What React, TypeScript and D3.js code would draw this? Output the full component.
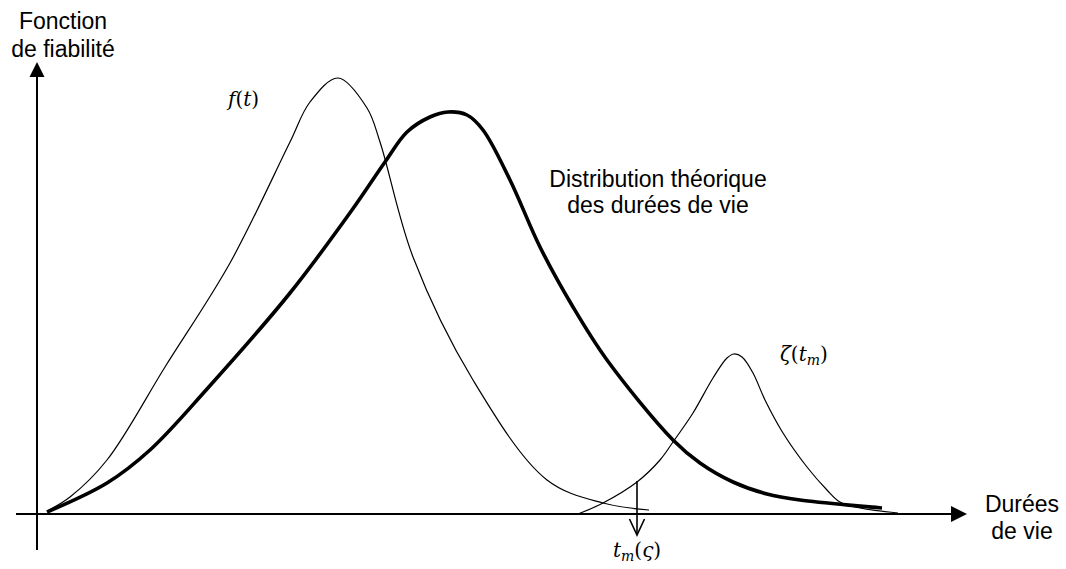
import { FC, useEffect, useRef } from 'react';
import * as d3 from 'd3';

// values (t = lifetime, y = density), one point per pair
const fT = [1.0, 3.3, 7.0, 12.8, 19.3, 25.3, 27.3, 30.1, 33.0, 34.3, 37.6, 43.6, 51.0, 56.6, 61.2];
const fY = [0.3, 1.7, 5.4, 14.7, 25.1, 37.2, 41.2, 43.6, 40.6, 37.2, 25.7, 13.4, 3.4, 1.1, 0.4];

const theoT = [1.0, 7.0, 11.3, 17.0, 25.3, 31.5, 34.8, 37.0, 39.3, 41.1, 43.0, 44.6, 47.3, 50.3, 53.6, 57.0, 63.6, 66.3, 69.6, 73.0, 76.3, 84.5];
const theoY = [0.2, 3.1, 6.4, 12.5, 22.1, 30.4, 35.2, 38.2, 39.7, 40.2, 39.9, 38.4, 33.4, 26.7, 20.7, 15.4, 7.4, 5.1, 3.2, 2.0, 1.4, 0.6];

const zetaT = [54.1, 56.6, 60.0, 62.3, 63.6, 65.6, 67.6, 69.0, 69.7, 70.5, 71.6, 72.8, 74.6, 77.0, 79.0, 80.3, 82.3, 86.1];
const zetaY = [0.0, 1.1, 3.2, 5.4, 7.2, 10.1, 13.6, 15.6, 16.0, 15.7, 14.1, 11.4, 8.1, 4.7, 2.4, 1.2, 0.6, 0.1];

// marker of t_m on the lifetime axis
const tm = 60.0;

const App: FC = () => {
  const ref = useRef<SVGSVGElement>(null);

  useEffect(() => {
    const svg = d3.select(ref.current);
    svg.selectAll('*').remove();

    //Scales: origin of the plot at (37, 514)
    const xScale = d3.scaleLinear().domain([0, 93]).range([37, 967]);
    const yScale = d3.scaleLinear().domain([0, 45]).range([514, 64]);

    const x0 = xScale(0);
    const y0 = yScale(0);

    //Axes
    svg.append('line')
      .attr('x1', xScale(-2.1)).attr('x2', xScale(91.4))
      .attr('y1', y0).attr('y2', y0)
      .attr('stroke', '#000').attr('stroke-width', 2);
    svg.append('line')
      .attr('x1', x0).attr('x2', x0)
      .attr('y1', yScale(-3.6)).attr('y2', yScale(43.7))
      .attr('stroke', '#000').attr('stroke-width', 2);

    //Arrow heads
    const xEnd = xScale(93);
    svg.append('path')
      .attr('d', `M${xEnd},${y0} L${xEnd - 16},${y0 - 8} L${xEnd - 16},${y0 + 8} Z`)
      .attr('fill', '#000');
    const yEnd = yScale(45.2);
    svg.append('path')
      .attr('d', `M${x0},${yEnd} L${x0 - 7.5},${yEnd + 15} L${x0 + 7.5},${yEnd + 15} Z`)
      .attr('fill', '#000');

    const line = d3
      .line<[number, number]>()
      .x((d) => xScale(d[0]))
      .y((d) => yScale(d[1]))
      .curve(d3.curveCatmullRom.alpha(0.5));

    const series = [
      { t: fT, y: fY, w: 1.2 },
      { t: zetaT, y: zetaY, w: 1.2 },
      { t: theoT, y: theoY, w: 3.6 },
    ];
    series.forEach((s) => {
      svg.append('path')
        .datum(s.t.map((t, i) => [t, s.y[i]] as [number, number]))
        .attr('fill', 'none')
        .attr('stroke', '#000')
        .attr('stroke-width', s.w)
        .attr('stroke-linejoin', 'round')
        .attr('d', line);
    });

    //Down arrow at t_m
    const xm = xScale(tm);
    svg.append('line')
      .attr('x1', xm).attr('x2', xm)
      .attr('y1', yScale(3.3)).attr('y2', yScale(-2.1))
      .attr('stroke', '#000').attr('stroke-width', 1.6);
    svg.append('path')
      .attr('d', `M${xm - 7.5},${yScale(-0.5)} L${xm},${yScale(-2.1)} L${xm + 7.5},${yScale(-0.5)}`)
      .attr('fill', 'none').attr('stroke', '#000').attr('stroke-width', 1.6);

    //Sans labels
    const sans = (lines: string[], cx: number, by: number, gap: number) => {
      lines.forEach((s, i) => {
        svg.append('text')
          .attr('x', cx).attr('y', by + i * gap)
          .attr('text-anchor', 'middle')
          .attr('font-family', '"Liberation Sans", Arial, sans-serif')
          .attr('font-size', 23)
          .attr('fill', '#000')
          .text(s);
      });
    };
    sans(['Fonction', 'de fiabilité'], 63, 29, 28);
    sans(['Distribution théorique', 'des durées de vie'], 658, 187, 26);
    sans(['Durées', 'de vie'], 1022, 512, 27);

    //Math labels: [text, italic, subscript]
    const math = (x: number, y: number, parts: [string, boolean, boolean][]) => {
      const t = svg.append('text')
        .attr('x', x).attr('y', y)
        .attr('font-family', '"DejaVu Serif", serif')
        .attr('font-size', 20)
        .attr('fill', '#000');
      let down = false;
      parts.forEach(([s, it, sub]) => {
        const sp = t.append('tspan')
          .attr('font-style', it ? 'italic' : 'normal')
          .text(s);
        if (sub) {
          sp.attr('font-size', 14).attr('dy', 4);
          down = true;
        } else if (down) {
          sp.attr('dy', -4);
          down = false;
        }
      });
    };
    math(228, 106, [['f', true, false], ['(', false, false], ['t', true, false], [')', false, false]]);
    math(780, 361, [['ζ', true, false], ['(', false, false], ['t', true, false], ['m', true, true], [')', false, false]]);
    math(613, 557, [['t', true, false], ['m', true, true], ['(', false, false], ['ς', true, false], [')', false, false]]);
  }, []);

  return (
    <svg
      ref={ref}
      width={1066}
      height={569}
      style={{ position: 'absolute', left: 0, top: 0, background: '#fff' }}
    />
  );
};

export default App;
